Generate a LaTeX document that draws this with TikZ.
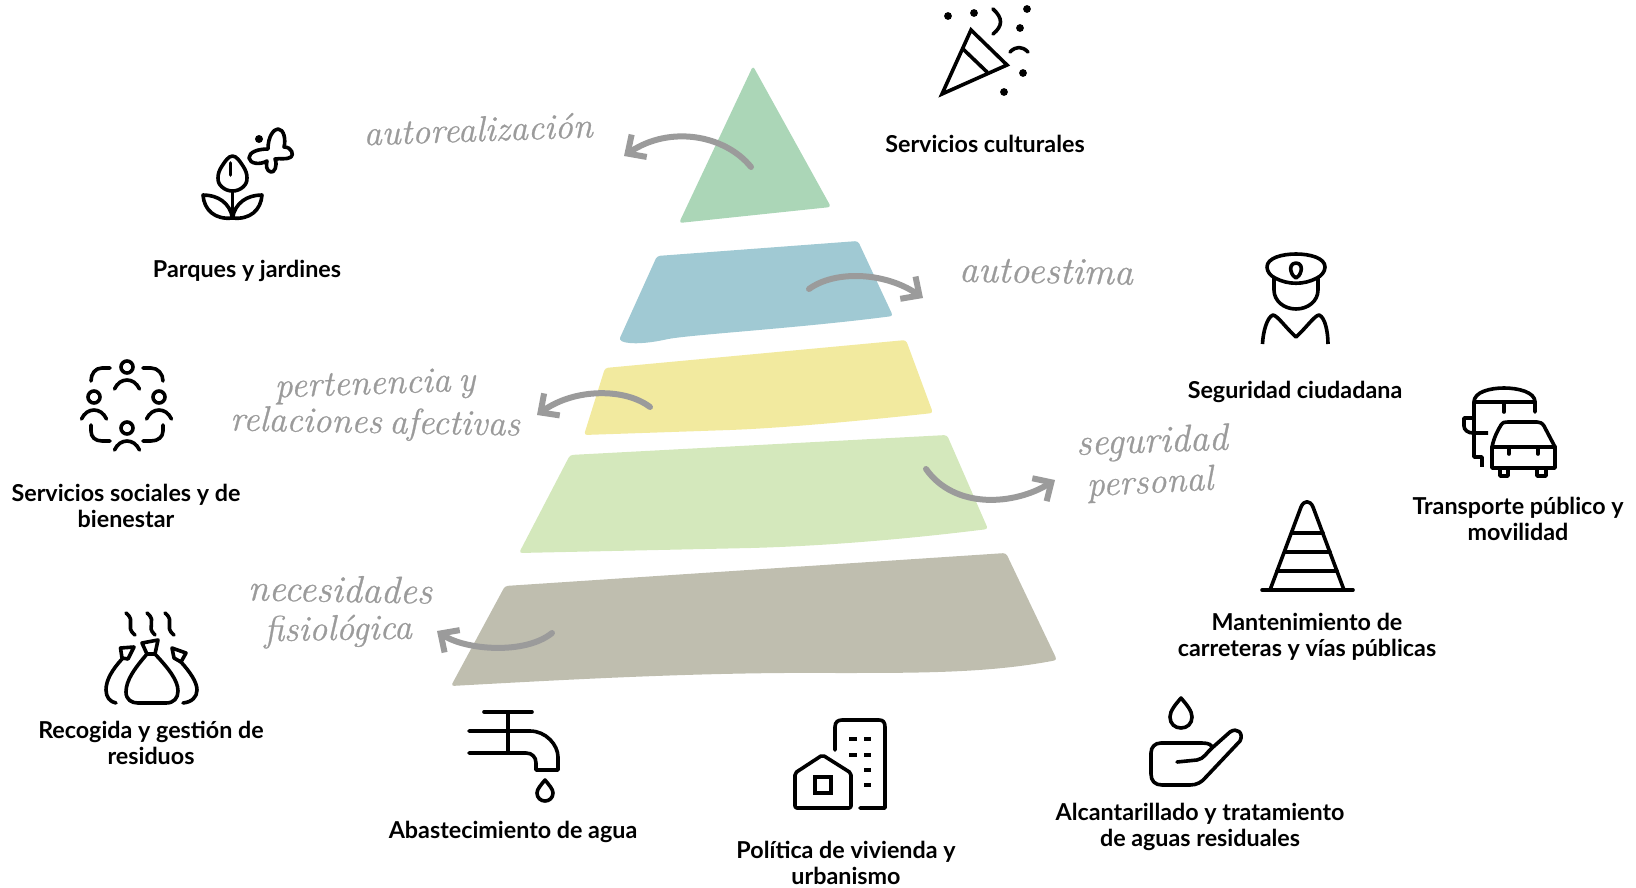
\documentclass[tikz,border=0pt]{standalone}
\usepackage{fontspec}
\setmainfont{Lato}
\newfontfamily\handfont[FakeBold=0.7,WordSpace=0.6]{Latin Modern Roman}
\usetikzlibrary{arrows.meta}
\definecolor{pyrA}{HTML}{ABD6B7}
\definecolor{pyrB}{HTML}{A0C9D3}
\definecolor{pyrC}{HTML}{F2EA9F}
\definecolor{pyrD}{HTML}{D4E8BC}
\definecolor{pyrE}{HTML}{BFBEAF}
\definecolor{handgray}{HTML}{9B9B9B}
\tikzset{
  lay/.style={rounded corners=3pt},
  curvearrow/.style={draw=handgray,line width=6pt,line cap=round,-{Straight Barb[length=14pt,width=27pt,line width=6pt]}},
  ico/.style={draw=black,line width=3.6pt,line cap=round,line join=round},
  dotblk/.style={fill=black,draw=none},
  lbl/.style={font=\fontsize{23.3}{26}\selectfont\bfseries,align=center,text=black,inner sep=0pt},
  hand/.style={font=\handfont\itshape\fontsize{36}{40}\selectfont,text=handgray,inner sep=0pt,align=center},
  handbig/.style={hand,font=\handfont\itshape\fontsize{38}{40}\selectfont}
}
\begin{document}
\begin{tikzpicture}[x=1pt,y=-1pt]
\useasboundingbox (0,0) rectangle (1636,888);
% pyramid
\fill[pyrA,lay] (753,66) -- (831,207) -- (679,223) -- cycle;
\fill[pyrB,lay] (657,256) -- (858,241) -- (893,316) .. controls (800,328) and (700,334) .. (668,339) .. controls (650,343) and (630,345) .. (619,340) -- cycle;
\fill[pyrC,lay] (605,368) -- (906,340) -- (933,413) .. controls (850,422) and (780,428) .. (730,430) -- (584,435) -- cycle;
\fill[pyrD,lay] (570,455) -- (947,435) -- (988,529) .. controls (900,540) and (820,546) .. (751,548) -- (519,553) -- cycle;
\fill[pyrE,lay] (505,586) -- (1006,553) -- (1057,660) .. controls (990,673) and (920,673) .. (835,673) .. controls (700,672) and (560,680) .. (451,686) -- cycle;
% arrows
\coordinate (a1s) at (751,167); \coordinate (a1e) at (624,156);
\coordinate (a2s) at (809,289); \coordinate (a2e) at (923,298);
\coordinate (a3s) at (650,407); \coordinate (a3e) at (537,415);
\coordinate (a4s) at (926,469); \coordinate (a4e) at (1055,480);
\coordinate (a5s) at (552,633); \coordinate (a5e) at (437,631);
\draw[curvearrow] (a1s) .. controls (725,135) and (670,125) .. (a1e);
\draw[curvearrow] (a2s) .. controls (835,270) and (885,272) .. (a2e);
\draw[curvearrow] (a3s) .. controls (625,388) and (575,388) .. (a3e);
\draw[curvearrow] (a4s) .. controls (955,510) and (1015,505) .. (a4e);
\draw[curvearrow] (a5s) .. controls (525,655) and (465,650) .. (a5e);
% handwritten
\node[hand,rotate=2] (h1) at (478,129) {autorealización};
\node[handbig,rotate=-1] (h2) at (1046,271) {autoestima};
\node[hand,rotate=2] (h3a) at (375,386) {pertenencia y};
\node[hand,rotate=-1] (h3b) at (375,424) {relaciones afectivas};
\node[handbig,rotate=2] (h4a) at (1152,443) {seguridad};
\node[hand,rotate=3] (h4b) at (1150,484) {personal};
\node[handbig,rotate=-1] (h5a) at (340,589) {necesidades};
\node[hand,rotate=1] (h5b) at (338,631) {fisiológica};
% labels
\node[lbl] (l1) at (985,144) {Servicios culturales};
\node[lbl] (l2) at (247,271) {Parques y jardines};
\node[lbl] (l3) at (1295,392) {Seguridad ciudadana};
\node[lbl] (l4) at (126,506) {Servicios sociales y de\\bienestar};
\node[lbl] (l5) at (1518,519) {Transporte público y\\movilidad};
\node[lbl] (l6) at (1307,637) {Mantenimiento de\\carreteras y vías públicas};
\node[lbl] (l7) at (151,743) {Recogida y gestión de\\residuos};
\node[lbl] (l8) at (513,832) {Abastecimiento de agua};
\node[lbl] (l9) at (1200,827) {Alcantarillado y tratamiento\\de aguas residuales};
\node[lbl] (l10) at (846,863) {Política de vivienda y\\urbanismo};
% party popper
\draw[ico,line cap=butt,miter limit=10,line join=miter] (971,30) -- (1007,65) -- (942,94) -- cycle;
\draw[ico] (963,49) -- (987,72);
\foreach \p in {(948,16),(974,13),(1027,9),(1020,28),(1023,73),(1004,92)} \fill[dotblk] \p circle (3.9pt);
\draw[ico] (993,9) .. controls (1003,18) and (1003,26) .. (993,34);
\draw[ico] (1010,52) .. controls (1016,46) and (1022,46) .. (1028,52);
% flower and butterfly
\draw[ico] plot[smooth cycle,tension=0.7] coordinates {(232.5,156) (243,166) (247,178) (243,187) (232.5,191) (222,187) (218,178) (222,166)};
\draw[ico] (230.5,163) -- (230.5,175);
\draw[ico] (232.5,191) -- (232.5,218);
\draw[ico] (232.5,218) .. controls (215,220) and (204,210) .. (203,195) .. controls (218,195) and (230,203) .. (232.5,218);
\draw[ico] (232.5,218) .. controls (250,220) and (261,210) .. (262,195) .. controls (247,195) and (235,203) .. (232.5,218);
\draw[ico] (268,149) .. controls (268,136) and (274,129) .. (278,129) .. controls (284,129) and (286,140) .. (284,147) .. controls (292,147) and (294,155) .. (291,157) .. controls (287,160) and (280,158) .. (275,159) .. controls (278,166) and (274,173) .. (271,172) .. controls (266,171) and (266,165) .. (267,161) .. controls (260,165) and (250,164) .. (249,158) .. controls (249,152) and (258,149) .. (268,149);
\fill[dotblk] (259,139) circle (4pt);
% social circle
\foreach \cx/\cy in {127/367,94/397,159/397,127/428} {
  \draw[ico] (\cx,\cy) circle (6pt);
  \draw[ico] ({\cx-12.5},{\cy+22}) .. controls ({\cx-7},{\cy+10}) and ({\cx+7},{\cy+10}) .. ({\cx+12.5},{\cy+22});
}
\draw[ico] (110,368) -- (102,368) .. controls (95,368) and (91,374) .. (91,381);
\draw[ico] (143,368) -- (151,368) .. controls (158,368) and (163,374) .. (163,381);
\draw[ico] (91,425) -- (91,431) .. controls (91,437) and (95,441) .. (102,441) -- (110,441);
\draw[ico] (163,425) -- (163,431) .. controls (163,437) and (158,441) .. (151,441) -- (143,441);
% bags
\draw[ico] (126,613) .. controls (137,622) and (124,626) .. (135,635);
\draw[ico] (147,613) .. controls (158,622) and (145,626) .. (155,635);
\draw[ico] (165,613) .. controls (176,622) and (163,626) .. (174,635);
\draw[ico] (142,643) -- (158,640) -- (155,654) -- (147,654) -- cycle;
\draw[ico] (147,654) .. controls (135,668) and (126,680) .. (126,692) .. controls (126,700) and (132,703) .. (138,703) -- (166,703) .. controls (174,703) and (178,698) .. (178,691) .. controls (178,680) and (168,668) .. (155,654);
\draw[ico] (120.5,648) -- (134,647) -- (128,659) -- (122,658) -- cycle;
\draw[ico] (122,659) .. controls (112,670) and (106,680) .. (106,690) .. controls (106,697) and (110,702) .. (116,703);
\draw[ico] (172,648) -- (186,653) -- (181,662) -- (174,658) -- cycle;
\draw[ico] (181,662) .. controls (190,672) and (197,682) .. (197,690) .. controls (197,697) and (192,702) .. (183,703);
% faucet
\draw[ico] (484,712) -- (532,712);
\draw[ico] (508,712) -- (508,753);
\draw[ico] (469,731) -- (530,731) .. controls (546,731) and (558,745) .. (558,757) -- (558,770) -- (536,770) -- (536,763) .. controls (536,757) and (532,753) .. (526,753) -- (469,753);
\draw[ico] (545,780) .. controls (549,785) and (553,789) .. (553,793) .. controls (553,798) and (549,801) .. (545,801) .. controls (541,801) and (537,798) .. (537,793) .. controls (537,789) and (541,785) .. (545,780) -- cycle;
% house and building
\draw[ico] (835,750) -- (835,727) .. controls (835,722) and (838,720) .. (842,720) -- (879,720) .. controls (883,720) and (885,722) .. (885,727) -- (885,808) -- (860,808);
\draw[ico,line cap=butt,rounded corners=2pt] (795,808) -- (795,773) -- (822.5,755) -- (851,773) -- (851,808) -- cycle;
\draw[ico,line cap=butt,line join=miter] (815,777) rectangle (831,793);
\foreach \xa/\xb/\yy in {849/857/739,864/871/739,849/857/755,864/871/755,864/871/770,864/871/785} \draw[ico,line cap=butt] (\xa,\yy) -- (\xb,\yy);
% hand and drop
\draw[ico] (1181,698) .. controls (1187,705) and (1192,711) .. (1192,717) .. controls (1192,724) and (1187,728) .. (1181,728) .. controls (1175,728) and (1170,724) .. (1170,717) .. controls (1170,711) and (1175,705) .. (1181,698) -- cycle;
\draw[ico] (1177,762) -- (1197,760) .. controls (1204,759) and (1207,752) .. (1212,748) -- (1230,732) .. controls (1237,727) and (1244,733) .. (1240,741) -- (1206,777) .. controls (1202,782) and (1197,785) .. (1190,785) -- (1162,785) .. controls (1155,785) and (1151,781) .. (1151,774) -- (1151,753) .. controls (1151,747) and (1155,743) .. (1161,743) -- (1202,743) .. controls (1209,743) and (1212,745) .. (1212,748);
% policeman
\draw[ico] (1296,254) .. controls (1282,254) and (1267,258) .. (1267,267) .. controls (1267,272) and (1271,276) .. (1275,278) .. controls (1288,285) and (1304,285) .. (1317,278) .. controls (1321,276) and (1325,272) .. (1325,267) .. controls (1325,258) and (1310,254) .. (1296,254) -- cycle;
\draw[ico] (1296,263) .. controls (1291,263) and (1290,268) .. (1291,271) .. controls (1292,275) and (1294,277) .. (1296,278) .. controls (1298,277) and (1300,275) .. (1301,271) .. controls (1302,268) and (1301,263) .. (1296,263) -- cycle;
\draw[ico] (1274,278) -- (1274,290) .. controls (1274,301) and (1284,309) .. (1296,309) .. controls (1308,309) and (1318,301) .. (1318,290) -- (1318,278);
\draw[ico,line cap=butt] (1262.5,344) .. controls (1263,332) and (1267,317) .. (1273,315) .. controls (1278,316) and (1285,327) .. (1296,337) .. controls (1307,327) and (1314,316) .. (1319,315) .. controls (1325,317) and (1328,332) .. (1328,344);
% bus and car
\draw[ico] (1474,402) .. controls (1474,392) and (1490,388) .. (1504,388) .. controls (1518,388) and (1535,392) .. (1535,402) -- (1535,412);
\draw[ico] (1474,402) -- (1535,402);
\draw[ico] (1504,402) -- (1504,412);
\draw[ico,line cap=butt] (1474,402) -- (1474,457) -- (1482,457) -- (1482,467);
\draw[ico,line cap=butt] (1474,418) -- (1464,418) -- (1464,426) .. controls (1464,430) and (1468,433) .. (1473,433) -- (1488,433);
\draw[ico,line join=round] (1492,447) .. controls (1494,437) and (1498,430) .. (1501,425) .. controls (1503,422) and (1505,422) .. (1508,422) -- (1537,422) .. controls (1540,422) and (1542,423) .. (1544,426) -- (1555,447) -- (1555,468) -- (1492,468) -- cycle;
\draw[ico] (1492,447) -- (1555,447);
\draw[ico] (1509,447) -- (1509,454);
\draw[ico] (1538,447) -- (1538,454);
\draw[ico,line cap=butt] (1500,468) -- (1500,476) -- (1508,476) -- (1508,468);
\draw[ico,line cap=butt] (1537,468) -- (1537,476) -- (1546,476) -- (1546,468);
% cone
\draw[ico,line cap=butt] (1270,590) -- (1301,507) .. controls (1304,500) and (1310,500) .. (1313,507) -- (1344,590);
\draw[ico] (1262,590) -- (1353,590);
\draw[ico] (1292,533) -- (1323,533);
\draw[ico] (1285,552) -- (1330,552);
\draw[ico] (1277,571) -- (1337,571);
\end{tikzpicture}
\end{document}
